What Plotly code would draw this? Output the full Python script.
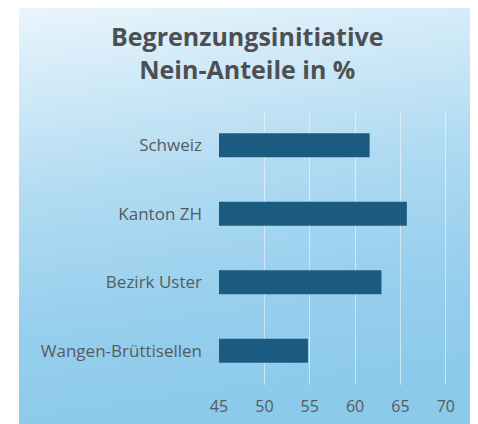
import base64
import plotly.graph_objects as go

categories = ["Schweiz", "Kanton ZH", "Bezirk Uster", "Wangen-Brüttisellen"]
values = [61.6, 65.7, 62.9, 54.8]
tick_vals = [45, 50, 55, 60, 65, 70]
title_lines = ["Begrenzungsinitiative", "Nein-Anteile in %"]

W, H = 478, 424
OFF = 8  # page body margin of the browser
L, R, T, B = 218.5 - OFF, 22, 111 - OFF, 424 - (385 - OFF)
pw, ph = W - L - R, H - T - B

svg = (
    '<svg xmlns="http://www.w3.org/2000/svg" width="100" height="100" preserveAspectRatio="none">'
    '<defs><linearGradient id="g" x1="0" y1="0" x2="0.15" y2="1">'
    '<stop offset="0" stop-color="#eaf5fc"/>'
    '<stop offset="0.18" stop-color="#d3ebf8"/>'
    '<stop offset="0.45" stop-color="#b1dbf2"/>'
    '<stop offset="0.75" stop-color="#97cfed"/>'
    '<stop offset="1" stop-color="#8ccaeb"/>'
    '</linearGradient></defs>'
    '<rect width="100" height="100" fill="url(#g)"/></svg>'
)
src = "data:image/svg+xml;base64," + base64.b64encode(svg.encode()).decode()


def py(y_px):
    """reference pixel y -> paper y"""
    return (H - B - (y_px - OFF)) / ph


def px(x_px):
    return (x_px - OFF - L) / pw


fig = go.Figure(
    go.Bar(
        x=[v - tick_vals[0] for v in values],
        y=categories,
        base=tick_vals[0],
        orientation="h",
        marker=dict(color="#1b5b80", line=dict(width=0)),
        width=0.35,
    )
)

fig.update_layout(
    width=W,
    height=H,
    margin=dict(l=L, r=R, t=T, b=B),
    paper_bgcolor="white",
    plot_bgcolor="rgba(0,0,0,0)",
    showlegend=False,
    font=dict(family="Open Sans", color="#5a5f63", size=15),
    images=[
        dict(
            source=src,
            xref="paper",
            yref="paper",
            x=px(18),
            y=py(5),
            sizex=(473 - 18) / pw,
            sizey=(430 - 5) / ph,
            xanchor="left",
            yanchor="top",
            sizing="stretch",
            layer="below",
        )
    ],
    xaxis=dict(
        range=[45, 72],
        tickvals=tick_vals,
        ticktext=[str(t) for t in tick_vals],
        showgrid=True,
        gridcolor="rgba(255,255,255,0.5)",
        gridwidth=1.3,
        zeroline=False,
        showline=False,
        ticks="outside",
        ticklen=7,
        tickcolor="rgba(0,0,0,0)",
        tickfont=dict(size=16, color="#565b60"),
    ),
    yaxis=dict(
        categoryorder="array",
        categoryarray=categories[::-1],
        range=[-0.5, 3.5],
        showgrid=False,
        zeroline=False,
        showline=False,
        ticks="",
        ticklabelstandoff=16,
        tickfont=dict(size=17, color="#565b60"),
    ),
)

fig.add_annotation(
    text="<br>".join(title_lines),
    xref="paper",
    yref="paper",
    x=px(247),
    y=py(53),
    xanchor="center",
    yanchor="middle",
    align="center",
    showarrow=False,
    font=dict(family="Open Sans", size=25, color="#4d4f52", weight="bold"),
)

fig.write_html("out.html")
